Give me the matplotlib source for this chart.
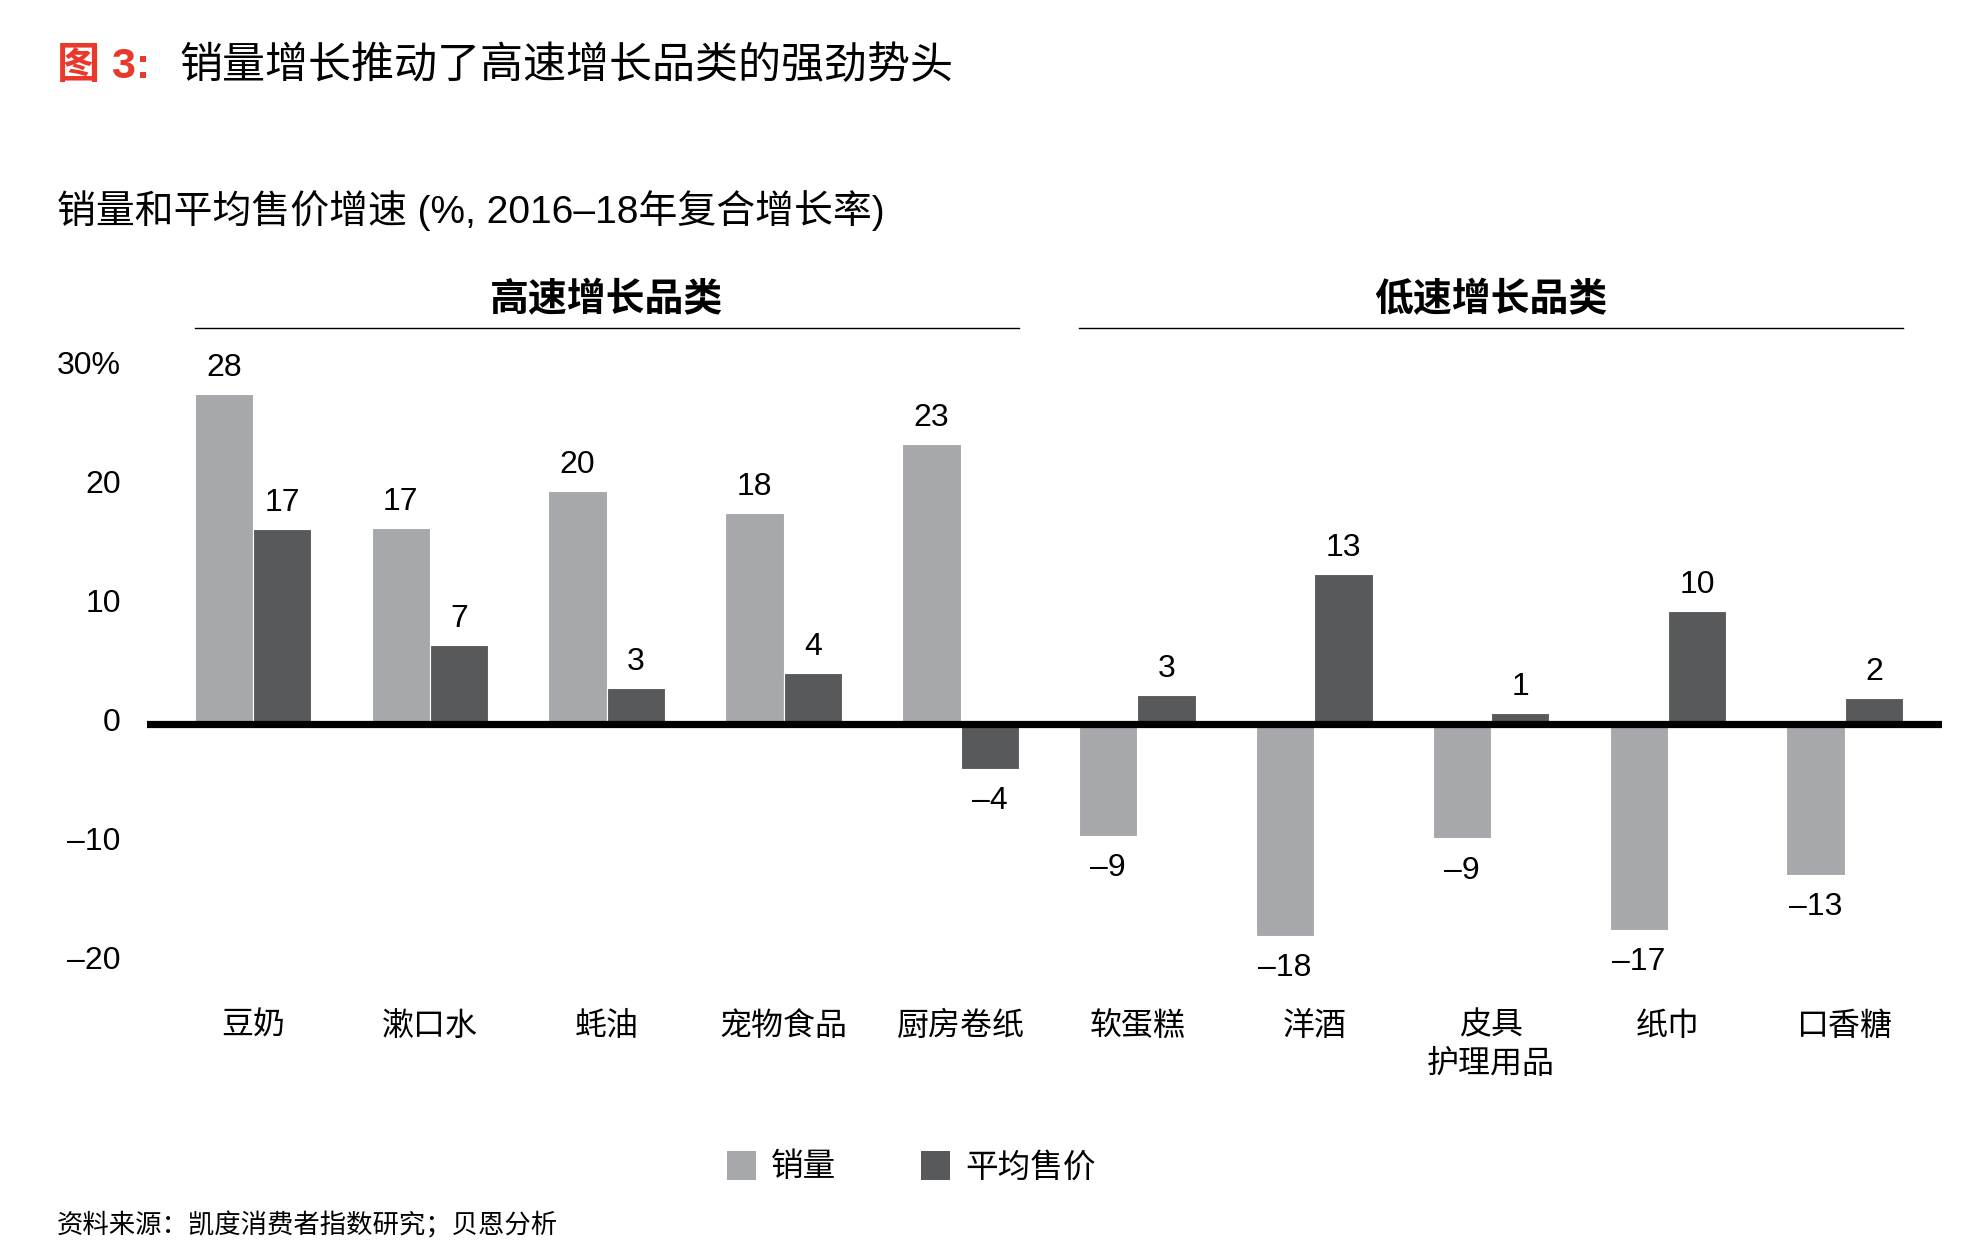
import matplotlib
matplotlib.use("Agg")
import matplotlib.pyplot as plt
from matplotlib.patches import Patch
import matplotlib.transforms as mtransforms

plt.rcParams['font.family'] = ['Liberation Sans', 'Noto Sans CJK SC', 'DejaVu Sans']

categories = ['豆奶', '漱口水', '蚝油', '宠物食品', '厨房卷纸',
              '软蛋糕', '洋酒', '皮具\n护理用品', '纸巾', '口香糖']
volume = [27.7, 16.5, 19.6, 17.7, 23.5, -9.4, -17.8, -9.6, -17.3, -12.7]
price = [16.4, 6.6, 3.0, 4.3, -3.75, 2.4, 12.6, 0.9, 9.5, 2.2]
volume_labels = ['28', '17', '20', '18', '23', '–9', '–18', '–9', '–17', '–13']
price_labels = ['17', '7', '3', '4', '–4', '3', '13', '1', '10', '2']
yticks = [-20, -10, 0, 10, 20, 30]
ytick_labels = ['–20', '–10', '0', '10', '20', '30%']
groups = ['高速增长品类', '低速增长品类']

c_vol = '#A7A8AB'
c_price = '#58595B'

fig = plt.figure(figsize=(19.76, 12.54), dpi=100)
ax = fig.add_axes([0.0744, 0.2044, 0.9084, 0.5124])
ax.set_xlim(-0.6, 9.55)
ax.set_ylim(-23, 31)

w = 0.33
x = list(range(len(categories)))
b1 = ax.bar([i - w / 2 for i in x], volume, width=w, color=c_vol,
            edgecolor='white', linewidth=0.8, zorder=2)
b2 = ax.bar([i + w / 2 for i in x], price, width=w, color=c_price,
            edgecolor='white', linewidth=0.8, zorder=2)

for bars, labs in ((b1, volume_labels), (b2, price_labels)):
    for rect, lab in zip(bars, labs):
        h = rect.get_height()
        xc = rect.get_x() + rect.get_width() / 2
        if h >= 0:
            ax.annotate(lab, (xc, h), xytext=(0, 8), textcoords='offset points',
                        ha='center', va='bottom', fontsize=23)
        else:
            ax.annotate(lab, (xc, h), xytext=(0, -12.5), textcoords='offset points',
                        ha='center', va='top', fontsize=23)

ax.axhline(0, color='black', lw=5.2, zorder=3)

for s in ax.spines.values():
    s.set_visible(False)
ax.set_xticks([])
ax.set_yticks(yticks)
ax.set_yticklabels(ytick_labels, fontsize=23)
ax.tick_params(axis='y', length=0, pad=19)
shift = mtransforms.ScaledTranslation(0, 3.5 / 72, fig.dpi_scale_trans)
for lab in ax.get_yticklabels():
    lab.set_transform(lab.get_transform() + shift)

trans = mtransforms.blended_transform_factory(ax.transData, ax.transAxes)
for i, cat in enumerate(categories):
    ax.text(i, -0.022, cat, transform=trans, ha='center', va='top',
            fontsize=23, linespacing=1.35, multialignment='center')

# group headers
for g, (lo, hi) in zip(groups, [(0, 4), (5, 9)]):
    ax.plot([lo - w, hi + w], [33.3, 33.3], color='black', lw=1.0, clip_on=False)
    ax.text((lo + hi) / 2, 35.6, g, ha='center', va='center', fontsize=28,
            fontweight='bold', clip_on=False)

# titles
fig.text(57 / 1976, 1 - 67 / 1254, '图 3:', color='#E8392B', fontsize=31,
         fontweight='bold', ha='left', va='center')
fig.text(179 / 1976, 1 - 67 / 1254, '销量增长推动了高速增长品类的强劲势头',
         color='black', fontsize=31, ha='left', va='center')
fig.text(57 / 1976, 1 - 211 / 1254, '销量和平均售价增速 (%, 2016–18年复合增长率)',
         color='black', fontsize=28, ha='left', va='center')

# legend
handles = [Patch(facecolor=c_vol, edgecolor='none', label='销量'),
           Patch(facecolor=c_price, edgecolor='none', label='平均售价')]
fig.legend(handles=handles, loc='center', bbox_to_anchor=(911 / 1976, 1 - 1167 / 1254),
           ncol=2, frameon=False, fontsize=23.5, handlelength=0.9, handleheight=1.0,
           handletextpad=0.45, columnspacing=2.6)

fig.text(57 / 1976, 1 - 1225 / 1254, '资料来源：凯度消费者指数研究；贝恩分析',
         color='black', fontsize=19, ha='left', va='center')

fig.savefig('out.png', dpi=100, facecolor='white')
